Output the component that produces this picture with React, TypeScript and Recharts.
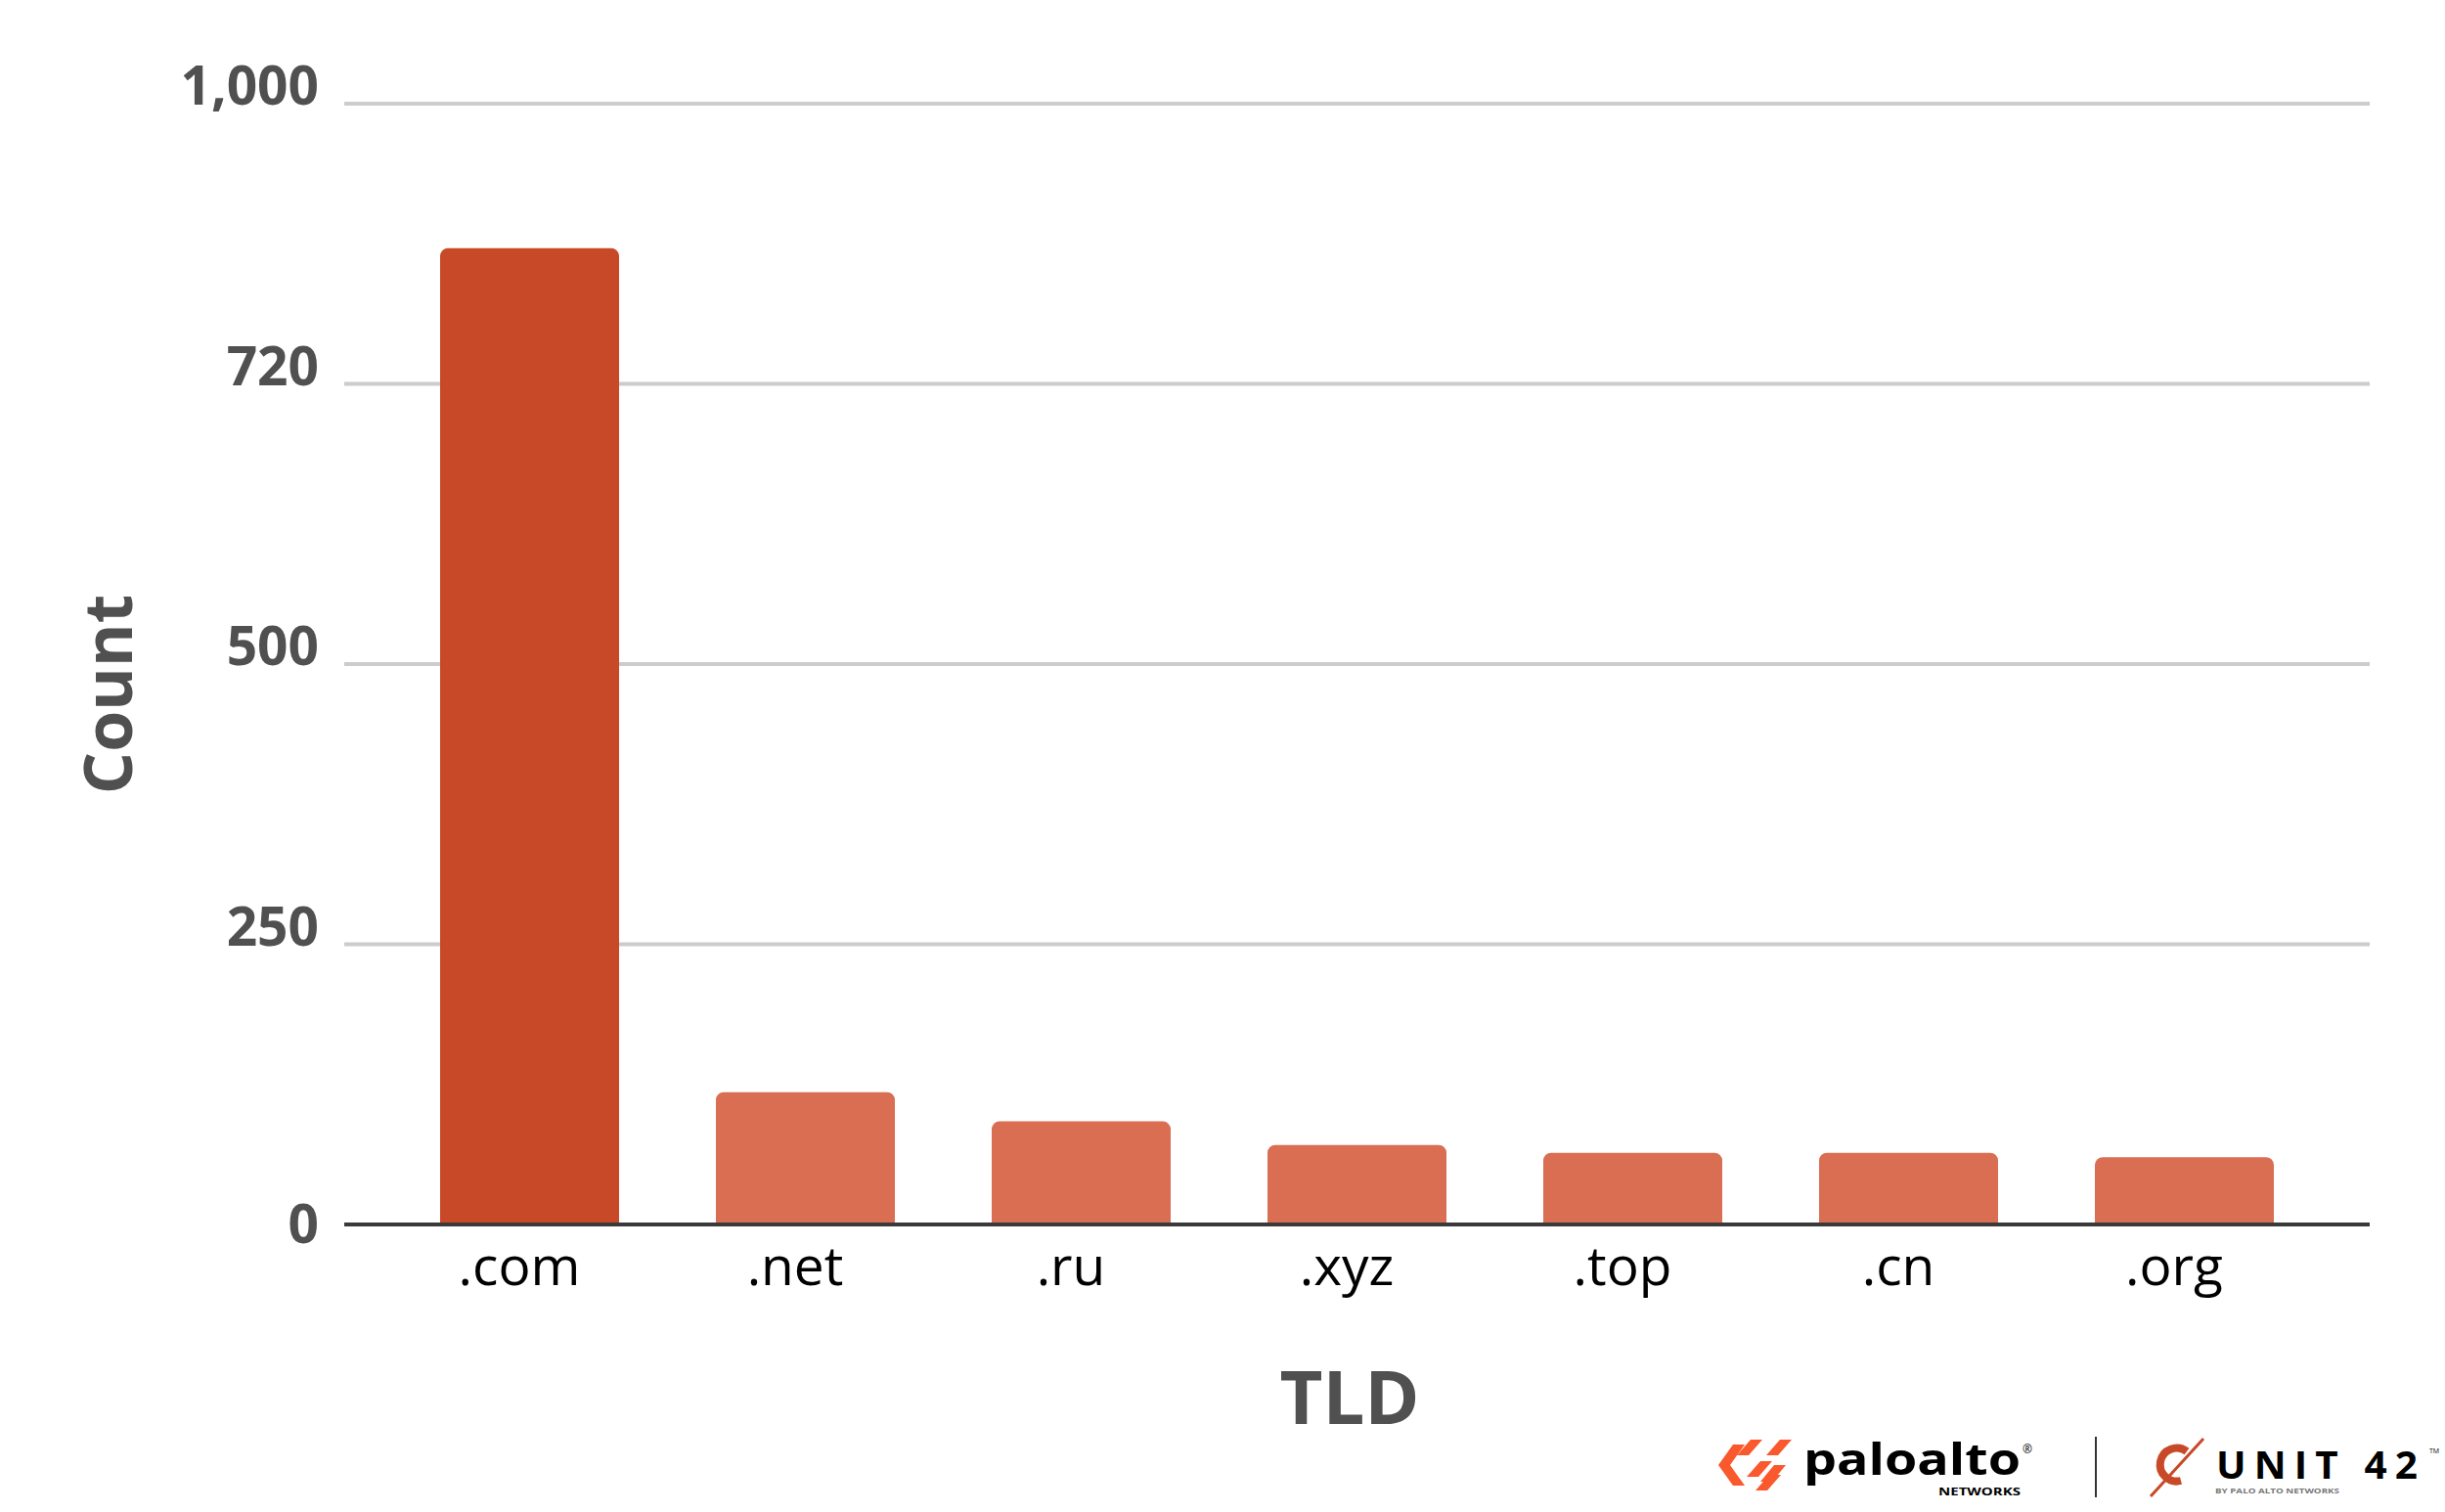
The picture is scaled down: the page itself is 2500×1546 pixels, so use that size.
import { BarChart, Bar, XAxis, YAxis, CartesianGrid, Cell, Label } from 'recharts'

const categories = ['.com', '.net', '.ru', '.xyz', '.top', '.cn', '.org']
const counts = [871, 118, 92, 71, 64, 64, 60]
const yTicks = [0, 250, 500, 750, 1000]
const yTickLabels = ['0', '250', '500', '720', '1,000']

const FONT = '"Open Sans", "DejaVu Sans", sans-serif'
const HIGHLIGHT = '#C84927'
const BAR = '#D96E53'
const LABEL_GREY = '#505050'

const chartData = categories.map((tld, i) => ({ tld, count: counts[i] }))

const YTick = (props: any) => {
  const { x, y, payload } = props
  const idx = yTicks.indexOf(payload.value)
  return (
    <text
      x={x - 26}
      y={payload.value === 0 ? y + 19 : y + 1}
      textAnchor="end"
      fontFamily={FONT}
      fontWeight={700}
      fontSize={55}
      fill={LABEL_GREY}
    >
      {idx >= 0 ? yTickLabels[idx] : payload.value}
    </text>
  )
}

const XTick = (props: any) => {
  const { x, y, payload } = props
  return (
    <text x={x - 10} y={y + 62} textAnchor="middle" fontFamily={FONT} fontSize={55} fill="#000">
      {payload.value}
    </text>
  )
}

// logos in the bottom right corner
function Logos() {
  return (
    <svg width={2500} height={1546} style={{ position: 'absolute', left: 0, top: 0, pointerEvents: 'none' }}>
      <g fill="#FA582D">
        <polygon points="1757,1498 1772,1477 1784,1477 1769,1498" />
        <polygon points="1769,1498 1784,1519 1772,1519 1757,1498" />
        <polygon points="1776,1488 1790,1472 1802,1472 1788,1488" />
        <polygon points="1786,1510 1800,1494 1812,1494 1798,1510" />
        <polygon points="1795,1524 1809,1508 1821,1508 1807,1524" />
        <polygon points="1806,1488 1820,1472 1832,1472 1818,1488" />
        <polygon points="1814,1498 1826,1498 1812,1515 1800,1515" />
      </g>
      <text x={1844} y={1508} fontFamily={FONT} fontWeight={700} fontSize={44} textLength={222} lengthAdjust="spacingAndGlyphs" fill="#000">
        paloalto
      </text>
      <text x={2068} y={1486} fontFamily={FONT} fontSize={12} fill="#000">®</text>
      <text x={1982} y={1529} fontFamily={FONT} fontWeight={700} fontSize={10} textLength={84} lengthAdjust="spacingAndGlyphs" fill="#000">
        NETWORKS
      </text>
      <line x1={2143} y1={1469} x2={2143} y2={1531} stroke="#333" strokeWidth={2} />
      <path d="M 2236 1484 A 17 17 0 1 0 2230 1514" fill="none" stroke={HIGHLIGHT} strokeWidth={8} />
      <line x1={2199} y1={1530} x2={2253} y2={1471} stroke={HIGHLIGHT} strokeWidth={3} />
      <text x={2266} y={1512} fontFamily={FONT} fontWeight={700} fontSize={40} letterSpacing={8} textLength={214} lengthAdjust="spacingAndGlyphs" fill="#000">
        UNIT 42
      </text>
      <text x={2484} y={1486} fontFamily={FONT} fontSize={7} fill="#000">TM</text>
      <text x={2265} y={1527} fontFamily={FONT} fontWeight={700} fontSize={7.5} textLength={127} lengthAdjust="spacingAndGlyphs" fill="#777">
        BY PALO ALTO NETWORKS
      </text>
    </svg>
  )
}

export default function App() {
  return (
    <div style={{ position: 'absolute', left: 0, top: 0, width: 2500, height: 1546, background: '#fff' }}>
      <BarChart
        width={2500}
        height={1546}
        data={chartData}
        margin={{ top: 106, right: 77, bottom: 144, left: 152 }}
        barSize={183}
      >
        <CartesianGrid vertical={false} stroke="#cccccc" strokeWidth={4} />
        <XAxis
          dataKey="tld"
          height={150}
          padding={{ left: 48, right: 49 }}
          axisLine={{ stroke: '#3a3a3a', strokeWidth: 4 }}
          tickLine={false}
          tickSize={0}
          tickMargin={0}
          interval={0}
          tick={<XTick />}
        >
          <Label
            content={() => (
              <text x={1380} y={1456} textAnchor="middle" fontFamily={FONT} fontWeight={700} fontSize={76} fill={LABEL_GREY}>
                TLD
              </text>
            )}
          />
        </XAxis>
        <YAxis
          type="number"
          domain={[0, 1000]}
          ticks={yTicks}
          interval={0}
          width={200}
          axisLine={false}
          tickLine={false}
          tickSize={0}
          tickMargin={0}
          tick={<YTick />}
        >
          <Label
            content={() => (
              <text
                x={135}
                y={710}
                transform="rotate(-90, 135, 710)"
                textAnchor="middle"
                fontFamily={FONT}
                fontWeight={700}
                fontSize={68}
                fill={LABEL_GREY}
              >
                Count
              </text>
            )}
          />
        </YAxis>
        <Bar dataKey="count" radius={[8, 8, 0, 0]} isAnimationActive={false}>
          {chartData.map((_, i) => (
            <Cell key={`cell-${i}`} fill={i === 0 ? HIGHLIGHT : BAR} />
          ))}
        </Bar>
      </BarChart>
      <Logos />
    </div>
  )
}
